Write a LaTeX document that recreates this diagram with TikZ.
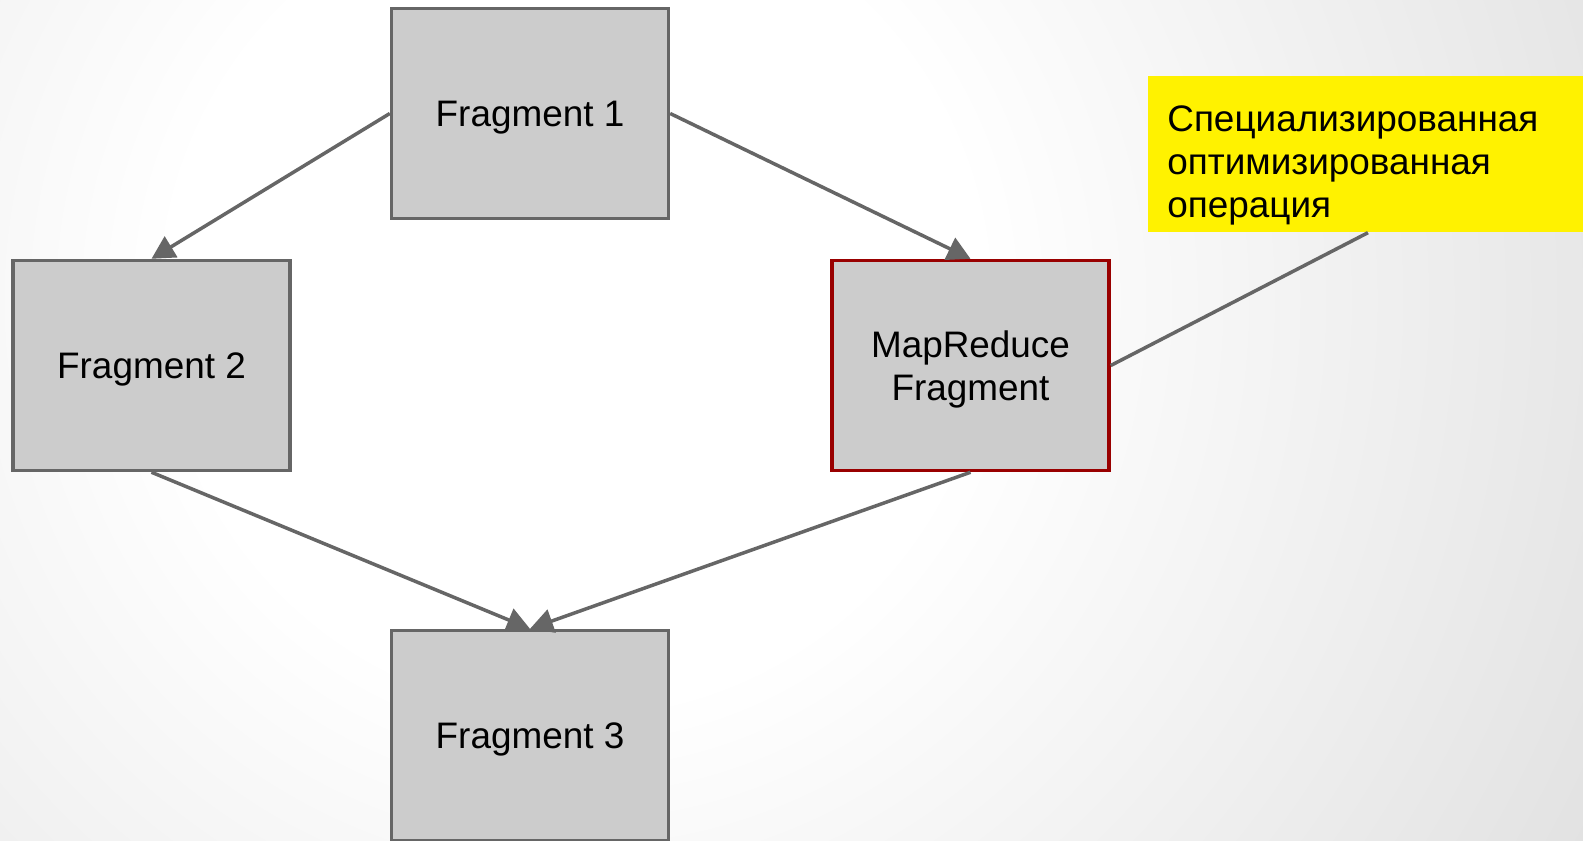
\documentclass[tikz,border=0pt]{standalone}
\usepackage{fontspec}
\setmainfont{Liberation Sans}
\usetikzlibrary{
  arrows.meta
}
\definecolor{edgegray}{HTML}{666666}
\definecolor{boxgray}{HTML}{CCCCCC}
\definecolor{mrred}{HTML}{990000}
\definecolor{bgouter}{HTML}{D2D2D2}
\pgfdeclareradialshading{bgglow}{\pgfpoint{0bp}{0bp}}{
  color(0bp)=(white);
  color(10bp)=(white);
  color(38.6bp)=(bgouter);
  color(50bp)=(bgouter)
}
\tikzset{
  fragment box/.style={
    draw=edgegray,
    fill=boxgray,
    line width=0.07cm,
    minimum width=5.54cm,
    minimum height=4.2cm,
    inner sep=0pt,
    text depth=0pt,
    align=center,
    font=\fontsize{21}{24.6}\selectfont
  },
  mapreduce box/.style={
    fragment box,
    draw=mrred
  },
  flow arrow/.style={
    draw=edgegray,
    line width=0.07cm,
    -{Triangle[length=0.46cm,width=0.48cm]}
  },
  callout line/.style={
    draw=edgegray,
    line width=0.07cm
  },
  note box/.style={
    fill=yellow,
    inner sep=0pt,
    minimum width=9cm,
    minimum height=3.12cm
  },
  note text/.style={
    inner sep=0pt,
    align=left,
    font=\fontsize{21}{24.6}\selectfont
  }
}

\begin{document}
\begin{tikzpicture}[x=0.02cm, y=-0.02cm]

    \useasboundingbox (0,0) rectangle (1583,840);

    % ---------- background ----------
    \begin{scope}
      \clip (0,0) rectangle (1583,840);
      \shade[shading=bgglow]
        (-435,-710) rectangle (1585,1310);
    \end{scope}

    % ---------- fragments ----------
    \node[fragment box] (frag1) at (530,113.5) {Fragment 1};
    \node[fragment box] (frag2) at (151.5,365.5) {Fragment 2};
    \node[mapreduce box] (mapred) at (970.5,365.5) {MapReduce\\Fragment};
    \node[fragment box] (frag3) at (530,735.5) {Fragment 3};

    % ---------- note ----------
    \node[note box, anchor=north west] (note) at (1148,76) {};
    \node[note text, anchor=north west] (notetext) at (1167,105)
      {Специализированная\\оптимизированная\\операция};
    \coordinate (notefoot) at ([xshift=4.4cm]note.south west);

    % ---------- edges ----------
    \draw[flow arrow] (frag1.west) -- (frag2.north);
    \draw[flow arrow] (frag1.east) -- (mapred.north);
    \draw[flow arrow] (frag2.south) -- (frag3.north);
    \draw[flow arrow] (mapred.south) -- (frag3.north);

    \draw[callout line] (notefoot) -- (mapred.east);

  \end{tikzpicture}
\end{document}
